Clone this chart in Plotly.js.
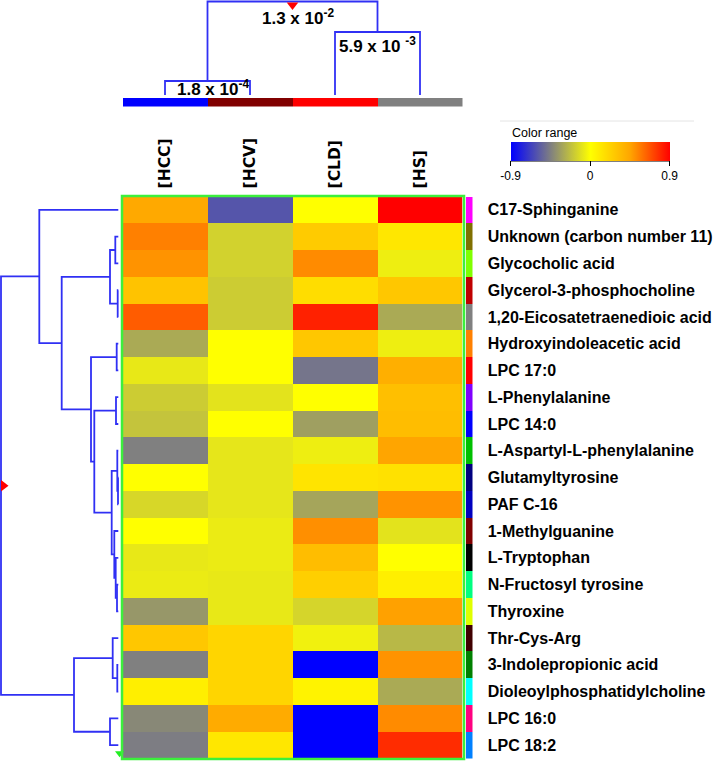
<!DOCTYPE html>
<html><head><meta charset="utf-8">
<script src="https://cdn.plot.ly/plotly-3.0.1.min.js"></script>
<style>html,body{margin:0;padding:0;background:#fff}#chart{width:721px;height:761px}</style>
</head><body><div id="chart"></div>
<script>
// ---------- DATA ----------
const rowLabels = ["C17-Sphinganine","Unknown (carbon number 11)","Glycocholic acid","Glycerol-3-phosphocholine",
  "1,20-Eicosatetraenedioic acid","Hydroxyindoleacetic acid","LPC 17:0","L-Phenylalanine","LPC 14:0",
  "L-Aspartyl-L-phenylalanine","Glutamyltyrosine","PAF C-16","1-Methylguanine","L-Tryptophan",
  "N-Fructosyl tyrosine","Thyroxine","Thr-Cys-Arg","3-Indolepropionic acid","Dioleoylphosphatidylcholine",
  "LPC 16:0","LPC 18:2"];
const colLabels = ["[HCC]","[HCV]","[CLD]","[HS]"];
const valHCC = [0.43,0.55,0.50,0.30,0.65,-0.30,-0.08,-0.18,-0.21,-0.45,0.00,-0.14,0.00,-0.08,-0.07,-0.37,0.28,-0.45,0.08,-0.42,-0.46];
const valHCV = [-0.60,-0.16,-0.16,-0.18,-0.18,0.00,0.00,-0.10,0.00,-0.09,-0.09,-0.09,-0.07,-0.07,-0.08,-0.08,0.21,0.21,0.21,0.42,0.12];
const valCLD = [0.00,0.26,0.52,0.17,0.81,0.28,-0.49,0.00,-0.34,-0.06,0.135,-0.32,0.51,0.33,0.24,-0.15,-0.05,-0.90,0.06,-0.90,-0.90];
const valHS  = [0.90,0.12,-0.06,0.28,-0.30,-0.06,0.40,0.32,0.33,0.45,0.15,0.50,-0.10,0.00,0.08,0.46,-0.25,0.50,-0.30,0.52,0.78];
const rowGroupColors = ["#ff00ff","#807000","#80ff00","#c00000","#808080","#ff8000","#ff0000","#8000ff","#0000ff",
  "#00c000","#000080","#0000c0","#800000","#000000","#00ff80","#e0ff00","#400000","#008000","#00ffff","#ff0080","#0080ff"];
const colGroupColors = ["#0000ff","#800000","#ff0000","#808080"];
// row linkage: [childA, childB, height]; leaves 0..20, merged nodes numbered from 21
const rowMerges = [
  [1,2,3.0],[3,4,0.6],[21,22,8.3],[5,6,1.6],[7,8,2.3],[10,11,0.3],[9,26,1.0],[14,15,1.3],[13,28,2.6],
  [12,29,4.0],[27,30,6.6],[25,31,24.0],[24,32,27.3],[23,33,56.6],[0,34,79.0],[17,18,1.0],[16,36,5.6],
  [19,20,8.3],[37,38,44.3],[35,39,117.3]];
// column linkage: leaves 0..3, merged nodes from 4
const colMerges = [[0,1,14],[2,3,63],[4,5,93.5]];
const colMergeLabels = ["1.8 x 10<sup>-4</sup>","5.9 x 10 <sup>-3</sup>","1.3 x 10<sup>-2</sup>"];
const colorTicks = [-0.9,0,0.9];
const colorTitle = "Color range";

// ---------- LAYOUT HELPERS ----------
const W=721, H=761;
const px = x => x/W, py = y => 1 - y/H;
const heatL=122.5, heatR=462.5, heatT=196.5, heatB=758.5;
const cbL=510.7, cbR=670, cbT=141.5, cbThick=19;
const lineBlue = "#3030f4";

function dendro(nLeaves, merges){
  const pos=[], hgt=[];
  for(let i=0;i<nLeaves;i++){pos[i]=i;hgt[i]=0;}
  const p=[], h=[];
  merges.forEach(([a,b,ht],k)=>{
    const id=nLeaves+k; pos[id]=(pos[a]+pos[b])/2; hgt[id]=ht;
    p.push(pos[a],pos[a],pos[b],pos[b],null);
    h.push(hgt[a],ht,ht,hgt[b],null);
  });
  return {p,h,pos,hgt};
}
const rowD = dendro(rowLabels.length, rowMerges);
const colD = dendro(colLabels.length, colMerges);
const rowRoot = rowD.pos.length-1, colRoot = colD.pos.length-1;

const z = rowLabels.map((_,i)=>[valHCC[i],valHCV[i],valCLD[i],valHS[i]]);
const rowIdx = rowLabels.map((_,i)=>i);
const colIdx = colLabels.map((_,i)=>i);

const traces = [
  {type:"heatmap", z:z, x:colIdx, y:rowIdx, xaxis:"x", yaxis:"y",
   zmin:-0.9, zmax:0.9, hoverinfo:"skip",
   colorscale:[[0,"#0000ff"],[0.25,"#808080"],[0.5,"#ffff00"],[0.75,"#ffa500"],[1,"#ff0000"]],
   colorbar:{orientation:"h", x:px(cbL), xanchor:"left", y:py(cbT), yanchor:"top",
     len:cbR-cbL, lenmode:"pixels", thickness:cbThick, thicknessmode:"pixels", outlinewidth:0, xpad:0, ypad:0,
     tickvals:colorTicks, ticktext:colorTicks.map(v=>String(v)), ticks:"outside", ticklen:5, tickcolor:"#000",
     tickfont:{family:"Liberation Sans", size:12, color:"#000"}}},
  {type:"bar", orientation:"h", y:rowIdx, x:rowIdx.map(()=>1), base:0, width:1,
   marker:{color:rowGroupColors, line:{width:0}}, xaxis:"x2", yaxis:"y2", hoverinfo:"skip", showlegend:false},
  {type:"bar", x:colIdx, y:colIdx.map(()=>1), base:0, width:1,
   marker:{color:colGroupColors, line:{width:0}}, xaxis:"x4", yaxis:"y4", hoverinfo:"skip", showlegend:false},
  {type:"scatter", mode:"lines", x:colD.p, y:colD.h, xaxis:"x3", yaxis:"y3", cliponaxis:false,
   line:{color:lineBlue, width:1.8}, hoverinfo:"skip", showlegend:false},
  {type:"scatter", mode:"lines", x:rowD.h, y:rowD.p, xaxis:"x5", yaxis:"y5", cliponaxis:false,
   line:{color:lineBlue, width:1.8}, hoverinfo:"skip", showlegend:false},
  {type:"scatter", mode:"markers", x:[colD.pos[colRoot]], y:[colD.hgt[colRoot]-3.5], xaxis:"x3", yaxis:"y3", cliponaxis:false,
   marker:{symbol:"triangle-down", size:10, color:"#ff0000"}, hoverinfo:"skip", showlegend:false},
  {type:"scatter", mode:"markers", x:[rowD.hgt[rowRoot]-2.5], y:[rowD.pos[rowRoot]], xaxis:"x5", yaxis:"y5", cliponaxis:false,
   marker:{symbol:"triangle-right", size:10, color:"#ff0000"}, hoverinfo:"skip", showlegend:false},
  {type:"scatter", mode:"markers", x:[-1.3], y:[rowLabels.length-0.7], xaxis:"x5", yaxis:"y5", cliponaxis:false,
   marker:{symbol:"triangle-down", size:8, color:"#22ee22"}, hoverinfo:"skip", showlegend:false}
];

const hidden = {showgrid:false, zeroline:false, showline:false, showticklabels:false, ticks:""};
const mergeShift = [6, 0, -2];
const layout = {
  width:W, height:H, margin:{l:0,r:0,t:0,b:0}, paper_bgcolor:"#fff", plot_bgcolor:"rgba(0,0,0,0)",
  showlegend:false, bargap:0,
  xaxis:{domain:[px(heatL),px(heatR)], range:[-0.5,3.5], side:"top", anchor:"y",
    tickvals:colIdx, ticktext:colLabels, tickangle:-90, ticks:"outside", ticklen:4, tickcolor:"rgba(0,0,0,0)",
    tickfont:{family:"DejaVu Sans", size:15.5, weight:"bold", color:"#000"},
    showgrid:false, zeroline:false, showline:false},
  yaxis:Object.assign({domain:[py(heatB),py(heatT)], range:[20.5,-0.5], anchor:"x"}, hidden),
  xaxis2:Object.assign({domain:[px(465.5),px(472.5)], range:[0,1], anchor:"y2"}, hidden),
  yaxis2:{domain:[py(heatB),py(heatT)], range:[20.5,-0.5], anchor:"x2", side:"right",
    tickvals:rowIdx, ticktext:rowLabels, ticks:"outside", ticklen:11, tickcolor:"rgba(0,0,0,0)",
    tickfont:{family:"Liberation Sans", size:16, weight:"bold", color:"#000"},
    showgrid:false, zeroline:false, showline:false},
  xaxis3:Object.assign({domain:[px(heatL),px(heatR)], range:[-0.5,3.5], anchor:"y3"}, hidden),
  yaxis3:Object.assign({domain:[py(95),1], range:[0,95], anchor:"x3"}, hidden),
  xaxis4:Object.assign({domain:[px(heatL),px(heatR)], range:[-0.5,3.5], anchor:"y4"}, hidden),
  yaxis4:Object.assign({domain:[py(106.5),py(97.5)], range:[0,1], anchor:"x4"}, hidden),
  xaxis5:Object.assign({domain:[0,px(122)], range:[118.3,-3.7], anchor:"y5"}, hidden),
  yaxis5:Object.assign({domain:[py(heatB),py(heatT)], range:[20.5,-0.5], anchor:"x5"}, hidden),
  annotations: colMerges.map((m,k)=>({
    xref:"x3", yref:"y3", x:colD.pos[colLabels.length+k], y:m[2], text:colMergeLabels[k],
    showarrow:false, xanchor:"center", yanchor:"top", yshift:mergeShift[k], xshift:k===1?0:5,
    font:{family:"Liberation Sans", size:17, weight:"bold", color:"#000"}})).concat([
    {xref:"paper", yref:"paper", x:px(cbL-1), y:py(cbT+1), xanchor:"left", yanchor:"bottom", showarrow:false,
     text:colorTitle, font:{family:"Liberation Sans", size:12.5, color:"#000"}}]),
  shapes:[
    {type:"rect", xref:"paper", yref:"paper", x0:px(heatL-0.5), x1:px(464), y0:py(heatB+0.5), y1:py(heatT-0.5),
     line:{color:"#3cf03c", width:2.5}, fillcolor:"rgba(0,0,0,0)", layer:"above"},
    {type:"line", xref:"paper", yref:"paper", x0:px(500), x1:px(694), y0:py(121), y1:py(121),
     line:{color:"#e4e4e4", width:1}},
    {type:"line", xref:"paper", yref:"paper", x0:px(cbL), x1:px(cbR), y0:py(cbT+cbThick+0.5), y1:py(cbT+cbThick+0.5),
     line:{color:"#000", width:1}}
  ]
};
Plotly.newPlot("chart", traces, layout, {staticPlot:true, displayModeBar:false});
</script></body></html>
